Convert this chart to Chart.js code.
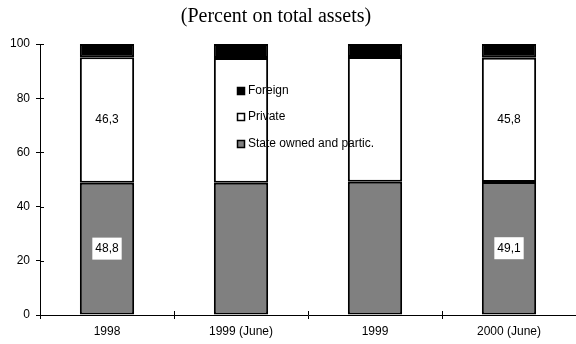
<!DOCTYPE html>
<html>
<head>
<meta charset="utf-8">
<script src="https://cdn.jsdelivr.net/npm/chart.js@4/dist/chart.umd.min.js"></script>
<style>
  html, body { margin: 0; padding: 0; background: #ffffff; }
  #wrap { width: 576px; height: 344px; }
</style>
</head>
<body>
<div id="wrap"><canvas id="c" width="576" height="344"></canvas></div>
<script>
const titleText = '(Percent on total assets)';
const categories = ['1998', '1999 (June)', '1999', '2000 (June)'];
const stateOwned = [48.8, 48.8, 49.2, 49.1];
const privateBanks = [46.3, 46.0, 46.0, 45.8];
const foreignBanks = [4.9, 5.2, 4.8, 5.1];
const seriesNames = ['State owned and partic.', 'Private', 'Foreign'];
const labelledCategories = [0, 3];
const yTicks = [0, 20, 40, 60, 80, 100];

const SANS = '"Liberation Sans", Arial, sans-serif';
const SERIF = '"Liberation Serif", "Times New Roman", serif';

const fmt = v => v.toFixed(1).replace('.', ',');

const titlePlugin = {
  id: 'customTitle',
  afterDraw(chart) {
    const ctx = chart.ctx;
    ctx.save();
    ctx.font = '20px ' + SERIF;
    ctx.fillStyle = '#000';
    ctx.textAlign = 'center';
    ctx.textBaseline = 'middle';
    ctx.fillText(titleText, 276, 17);
    ctx.restore();
  }
};

const crossTicks = {
  id: 'crossTicks',
  afterDraw(chart) {
    const ctx = chart.ctx;
    const xs = chart.scales.x, ys = chart.scales.y;
    const area = chart.chartArea;
    ctx.save();
    ctx.strokeStyle = '#000';
    ctx.lineWidth = 1;
    ctx.beginPath();
    ys.ticks.forEach(t => {
      const y = Math.round(ys.getPixelForValue(t.value)) + 0.5;
      ctx.moveTo(area.left, y);
      ctx.lineTo(area.left + 4, y);
    });
    for (let i = 1; i < xs.ticks.length; i++) {
      const x = Math.round((xs.getPixelForTick(i - 1) + xs.getPixelForTick(i)) / 2) + 0.5;
      ctx.moveTo(x, area.bottom);
      ctx.lineTo(x, area.bottom - 4);
    }
    ctx.stroke();
    ctx.restore();
  }
};

const valueLabels = {
  id: 'valueLabels',
  afterDatasetsDraw(chart) {
    const ctx = chart.ctx;
    ctx.save();
    ctx.font = '12px ' + SANS;
    ctx.textAlign = 'center';
    ctx.textBaseline = 'middle';
    [0, 1].forEach(di => {
      const meta = chart.getDatasetMeta(di);
      const ds = chart.data.datasets[di];
      labelledCategories.forEach(i => {
        const el = meta.data[i];
        const yMid = (el.y + el.base) / 2;
        const txt = fmt(ds.data[i]);
        if (di === 0) {
          const w = ctx.measureText(txt).width + 6;
          ctx.fillStyle = '#ffffff';
          ctx.fillRect(el.x - w / 2, yMid - 11, w, 22);
        }
        ctx.fillStyle = '#000';
        ctx.fillText(txt, el.x, yMid);
      });
    });
    ctx.restore();
  }
};

const legendPlugin = {
  id: 'insideLegend',
  afterDatasetsDraw(chart) {
    const ctx = chart.ctx;
    const ds = chart.data.datasets.slice().reverse();
    const x0 = 237, ys = [91, 117, 144];
    ctx.save();
    ctx.font = '12px ' + SANS;
    ctx.textBaseline = 'middle';
    ctx.textAlign = 'left';
    ds.forEach((d, k) => {
      const y = ys[k];
      ctx.fillStyle = d.backgroundColor;
      ctx.fillRect(x0, y - 4, 8, 8);
      ctx.strokeStyle = '#000';
      ctx.lineWidth = 1.5;
      ctx.strokeRect(x0 + 0.5, y - 3.5, 7, 7);
      ctx.fillStyle = '#000';
      ctx.fillText(d.label, x0 + 11, y);
    });
    ctx.restore();
  }
};

const barOpts = { borderColor: '#000000', borderWidth: 2, barPercentage: 0.405, categoryPercentage: 1.0, borderSkipped: false };

new Chart(document.getElementById('c'), {
  type: 'bar',
  data: {
    labels: categories,
    datasets: [
      Object.assign({ label: seriesNames[0], data: stateOwned, backgroundColor: '#808080' }, barOpts),
      Object.assign({ label: seriesNames[1], data: privateBanks, backgroundColor: '#ffffff' }, barOpts),
      Object.assign({ label: seriesNames[2], data: foreignBanks, backgroundColor: '#000000' }, barOpts)
    ]
  },
  options: {
    responsive: false,
    animation: false,
    layout: { padding: { top: 44, right: 0, left: 0, bottom: 0 } },
    plugins: {
      legend: { display: false },
      title: { display: false },
      tooltip: { enabled: false }
    },
    scales: {
      x: {
        stacked: true,
        grid: { offset: true, drawOnChartArea: false, color: '#000', tickLength: 4, lineWidth: 1 },
        border: { color: '#000', width: 1 },
        ticks: { color: '#000', font: { family: SANS, size: 12 }, padding: 5, maxRotation: 0 },
        afterFit(s) { s.height = 29; }
      },
      y: {
        stacked: true,
        min: 0,
        max: 100,
        afterBuildTicks(s) { s.ticks = yTicks.map(v => ({ value: v })); },
        grid: { drawOnChartArea: false, color: '#000', tickLength: 4, lineWidth: 1 },
        border: { color: '#000', width: 1 },
        ticks: { color: '#000', font: { family: SANS, size: 12 }, padding: 6 },
        afterFit(s) { s.width = 40; }
      }
    }
  },
  plugins: [valueLabels, legendPlugin, crossTicks, titlePlugin]
});
</script>
</body>
</html>
